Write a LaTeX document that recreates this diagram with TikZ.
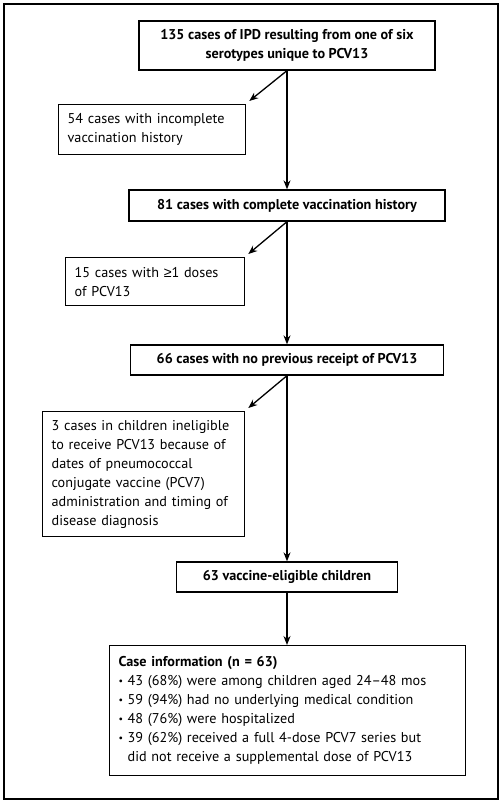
\documentclass[tikz,border=0pt]{standalone}
\usepackage{fontspec}
\setmainfont{PT Sans}
\newfontfamily\symfont{Liberation Sans}
\usetikzlibrary{arrows.meta,positioning}

\newcommand{\bul}{\makebox[9pt][l]{\raisebox{1pt}{\scalebox{0.7}{\textbullet}}}}

\begin{document}
\begin{tikzpicture}[x=1pt,y=-1pt,
    mainbox/.style={draw, line width=1.3pt, align=center, inner sep=0pt, font=\fontsize{14.2}{19}\selectfont\bfseries},
    sidebox/.style={draw, line width=1.3pt, align=left, anchor=north west, inner xsep=9pt, inner ysep=0pt, font=\fontsize{14.2}{19}\selectfont},
    arr/.style={-{Stealth[length=9pt,width=7pt]}, line width=1.3pt}
]
\useasboundingbox (0,0) rectangle (503,804);
\draw[line width=1.1pt] (4,4) rectangle (498,799);

% main column
\node[mainbox, minimum width=296pt, minimum height=49pt] (cases) at (287,45.5) {135 cases of IPD resulting from one of six\\serotypes unique to PCV13};
\node[mainbox, minimum width=316pt, minimum height=31pt] (complete) at (287,205.5) {81 cases with complete vaccination history};
\node[mainbox, minimum width=313pt, minimum height=30pt] (noprev) at (287,360) {66 cases with no previous receipt of PCV13};
\node[mainbox, minimum width=221pt, minimum height=30pt] (eligible) at (287,577) {63 vaccine-eligible children};
\node[sidebox, text width=338pt, minimum height=130pt] (info) at (109,645) {\textbf{Case information (n = 63)}\\
\bul 43 (68\%) were among children aged 24--48 mos\\
\bul 59 (94\%) had no underlying medical condition\\
\bul 48 (76\%) were hospitalized\\
\bul 39 (62\%) received a full 4-dose PCV7 series but\\
\hspace*{9pt}did not receive a supplemental dose of PCV13};

% excluded cases
\node[sidebox, text width=169pt, minimum height=50pt] (incomplete) at (58,104) {54 cases with incomplete\\vaccination history};
\node[sidebox, text width=161pt, minimum height=48pt] (doses) at (65,257) {15 cases with {\symfont ≥}1 doses\\of PCV13};
\node[sidebox, text width=184pt, minimum height=125pt] (inelig) at (42,411) {3 cases in children ineligible\\to receive PCV13 because of\\dates of pneumococcal\\conjugate vaccine (PCV7)\\administration and timing of\\disease diagnosis};

\draw[arr] (cases) -- (complete);
\draw[arr] (complete) -- (noprev);
\draw[arr] (noprev) -- (eligible);
\draw[arr] (eligible) -- (info.north -| eligible);

\draw[arr] (cases.south) -- ([shift={(3,-3)}]incomplete.north east);
\draw[arr] (complete.south) -- ([shift={(3,-3)}]doses.north east);
\draw[arr] (noprev.south) -- ([shift={(3,-3)}]inelig.north east);
\end{tikzpicture}
\end{document}
